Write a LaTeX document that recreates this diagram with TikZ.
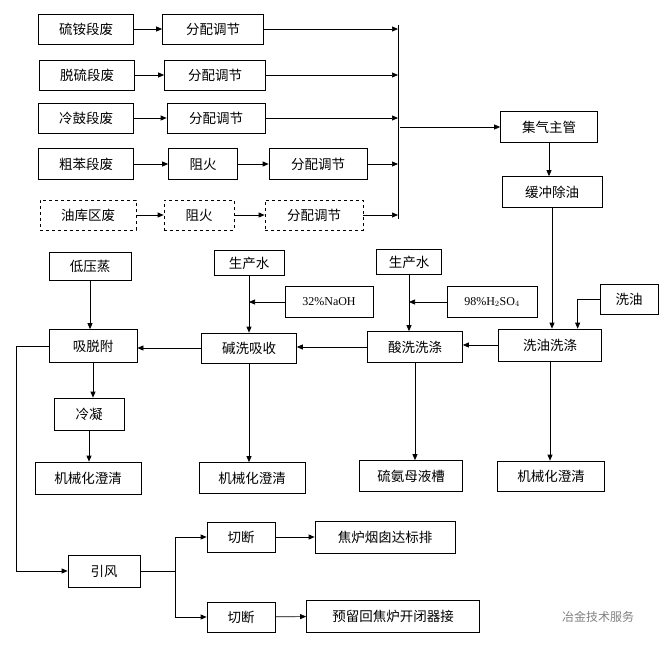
\documentclass[tikz,border=0pt]{standalone}
\usepackage{fontspec}
\setmainfont{Liberation Serif}
\newfontfamily\cjk{Noto Sans CJK SC}
\usetikzlibrary{arrows.meta}
\tikzstyle{fBox} = [rectangle, draw=black, inner sep=0pt, font=\cjk\fontsize{13.5}{13.5}\selectfont, align=center]
\tikzstyle{fDash} = [fBox, dashed]
\tikzstyle{fArrow} = [-{Triangle[length=6pt,width=5pt]}]
\begin{document}
\begin{tikzpicture}[x=1pt, y=-1pt, line width=0.7pt]
    \useasboundingbox (0,0) rectangle (672,648);
    % gas sources
    \node (s1) [fBox, minimum width=95, minimum height=30] at (86,29) {硫铵段废};
    \node (a1) [fBox, minimum width=101, minimum height=30] at (213,29) {分配调节};
    \node (s2) [fBox, minimum width=95, minimum height=30] at (87,75) {脱硫段废};
    \node (a2) [fBox, minimum width=101, minimum height=30] at (215,75) {分配调节};
    \node (s3) [fBox, minimum width=95, minimum height=30] at (86,118) {冷鼓段废};
    \node (a3) [fBox, minimum width=98, minimum height=30] at (216,118) {分配调节};
    \node (s4) [fBox, minimum width=95, minimum height=31] at (86,164) {粗苯段废};
    \node (f4) [fBox, minimum width=69, minimum height=31] at (203,164) {阻火};
    \node (a4) [fBox, minimum width=98, minimum height=31] at (318,164) {分配调节};
    \node (s5) [fDash, minimum width=96, minimum height=30] at (88,215) {油库区废};
    \node (f5) [fDash, minimum width=70, minimum height=30] at (199,215) {阻火};
    \node (a5) [fDash, minimum width=98, minimum height=30] at (314,215) {分配调节};
    \coordinate (bus1) at (398,25);
    \coordinate (bus2) at (398,219);
    \coordinate (busm) at (400,127);
    \node (main) [fBox, minimum width=97, minimum height=31] at (549,127) {集气主管};
    \node (buf) [fBox, minimum width=100, minimum height=31] at (552,192) {缓冲除油};
    % washing
    \node (steam) [fBox, minimum width=82, minimum height=28] at (90,266) {低压蒸};
    \node (w1) [fBox, minimum width=70, minimum height=25] at (249,263) {生产水};
    \node (naoh) [fBox, minimum width=88, minimum height=31, font=\fontsize{12}{12}\selectfont] at (329,302) {32\%NaOH};
    \node (w2) [fBox, minimum width=65, minimum height=25] at (409,262) {生产水};
    \node (acid) [fBox, minimum width=90, minimum height=31, font=\fontsize{12}{12}\selectfont] at (492,302) {98\%H$_2$SO$_4$};
    \node (oil) [fBox, minimum width=58, minimum height=30] at (629,299) {洗油};
    \node (ads) [fBox, minimum width=88, minimum height=33] at (93,346) {吸脱附};
    \node (alk) [fBox, minimum width=95, minimum height=30] at (249,348) {碱洗吸收};
    \node (acw) [fBox, minimum width=95, minimum height=31] at (415,347) {酸洗洗涤};
    \node (oiw) [fBox, minimum width=103, minimum height=32] at (550,345) {洗油洗涤};
    \node (cond) [fBox, minimum width=70, minimum height=32] at (89,414) {冷凝};
    \node (c1) [fBox, minimum width=106, minimum height=32] at (88,478) {机械化澄清};
    \node (c2) [fBox, minimum width=106, minimum height=31] at (252,478) {机械化澄清};
    \node (c3) [fBox, minimum width=103, minimum height=31] at (411,476) {硫氨母液槽};
    \node (c4) [fBox, minimum width=107, minimum height=30] at (551,476) {机械化澄清};
    % exhaust
    \node (fan) [fBox, minimum width=72, minimum height=32] at (104,571) {引风};
    \node (cut1) [fBox, minimum width=68, minimum height=30] at (241,537) {切断};
    \node (stack) [fBox, minimum width=140, minimum height=32] at (385,537) {焦炉烟囱达标排};
    \node (cut2) [fBox, minimum width=68, minimum height=30] at (241,617) {切断};
    \node (back) [fBox, minimum width=173, minimum height=32] at (393,616) {预留回焦炉开闭器接};
    \coordinate (spl) at (175,571);
    \coordinate (left) at (16,346);
    \node (mark) [font=\cjk\fontsize{12}{12}\selectfont, text=gray] at (598,617) {冶金技术服务};

    \foreach \s/\t in {s1/a1, s2/a2, s3/a3, s4/f4, f4/a4, s5/f5, f5/a5}
        \draw [fArrow] (\s) -- (\t);
    \foreach \a in {a1, a2, a3, a4, a5}
        \draw [fArrow] (\a.east) -- (\a.east -| bus1);
    \draw (bus1) -- (bus2);
    \draw [fArrow] (busm) -- (main);
    \foreach \s/\t in {main/buf, buf/oiw, steam/ads, ads/cond, cond/c1, alk/c2, acw/c3, oiw/c4, w1/alk, w2/acw}
        \draw [fArrow] (\s.south) -- (\s.south |- \t.north);
    \draw [fArrow] (oil.west) -- ++(-22,0) coordinate (oilc) -- (oilc |- oiw.north);
    \draw [fArrow] (naoh.west) -- (naoh.west -| w1);
    \draw [fArrow] (acid.west) -- (acid.west -| w2);
    \draw [fArrow] (oiw.west) -- (oiw.west -| acw.east);
    \draw [fArrow] (acw.west) -- (acw.west -| alk.east);
    \draw [fArrow] (alk.west) -- (alk.west -| ads.east);
    \draw [fArrow] (ads.west) -- (left) |- (fan.west);
    \draw (fan) -- (spl);
    \draw [fArrow] (spl) |- (cut1);
    \draw [fArrow] (spl) |- (cut2);
    \draw [fArrow] (cut1) -- (stack);
    \draw [fArrow] (cut2) -- (back);
\end{tikzpicture}
\end{document}
